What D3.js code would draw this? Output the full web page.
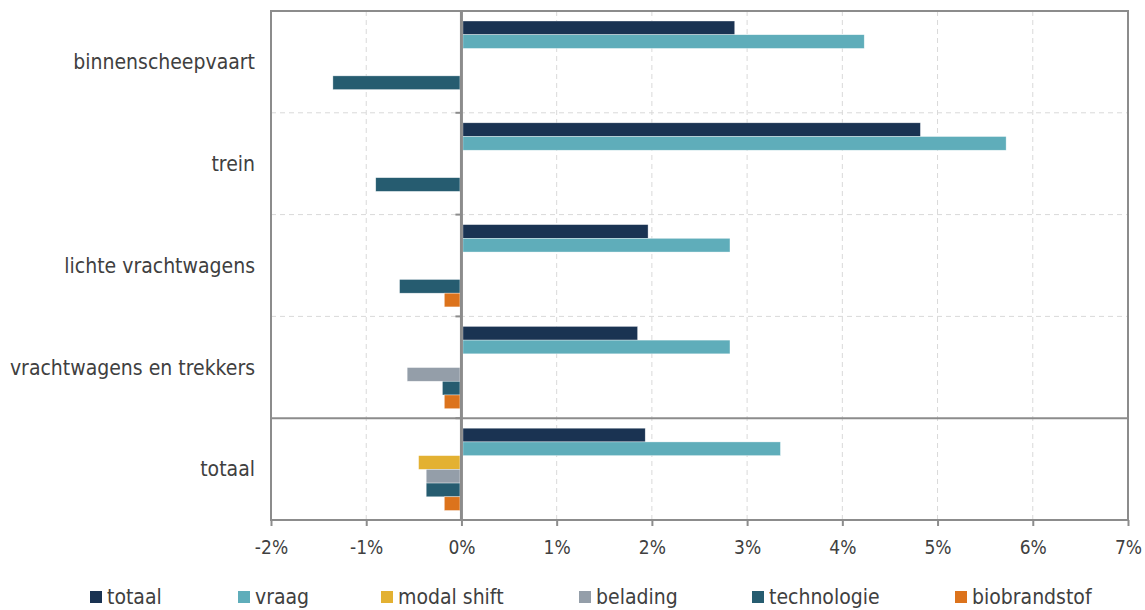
<!DOCTYPE html>
<html>
<head>
<meta charset="utf-8">
<script src="https://cdn.jsdelivr.net/npm/d3@7"></script>
<style>
  body { margin: 0; background: #fff; }
  svg text { font-family: "DejaVu Sans Condensed", "DejaVu Sans", sans-serif; font-stretch: condensed; fill: #404040; }
</style>
</head>
<body>
<svg width="1145" height="610"></svg>
<script>
//data
const categories = ['binnenscheepvaart', 'trein', 'lichte vrachtwagens', 'vrachtwagens en trekkers', 'totaal'];
const series = ['totaal', 'vraag', 'modal shift', 'belading', 'technologie', 'biobrandstof'];
const colors = ['#1a3352', '#5fadba', '#e3b132', '#949ea9', '#265c70', '#dc731c'];
// values in %, one array per category, in series order
const binnenscheepvaart = [2.87, 4.23, 0, 0, -1.35, 0];
const trein = [4.82, 5.72, 0, 0, -0.9, 0];
const lichteVrachtwagens = [1.96, 2.82, 0, 0, -0.65, -0.18];
const vrachtwagensTrekkers = [1.85, 2.82, 0, -0.57, -0.2, -0.18];
const totaal = [1.93, 3.35, -0.45, -0.37, -0.37, -0.18];
const xTicks = [-2, -1, 0, 1, 2, 3, 4, 5, 6, 7];

const values = [binnenscheepvaart, trein, lichteVrachtwagens, vrachtwagensTrekkers, totaal];
const data = [];
values.forEach((row, ci) => row.forEach((v, si) => {
	if (v !== 0) data.push({cat: categories[ci], s: series[si], i: si, v: v});
}));

//layout
const pLeft = 271, pRight = 1128, pTop = 11, pBottom = 520;
const svg = d3.select('svg');

const x = d3.scaleLinear().domain([-2, 7]).range([pLeft, pRight]);
const y = d3.scaleBand().domain(categories).range([pTop, pBottom]);
const yi = d3.scaleBand().domain(series).range([10, y.bandwidth() - 9.5]);

//grid
svg.append('g').selectAll('line').data(xTicks.filter(t => t > -2 && t < 7 && t !== 0))
	.enter().append('line')
	.attr('x1', d => x(d)).attr('x2', d => x(d))
	.attr('y1', pTop).attr('y2', pBottom)
	.attr('stroke', '#d9d9d9').attr('stroke-width', 1).attr('stroke-dasharray', '5,4');

svg.append('g').selectAll('line').data(categories.slice(1, 4))
	.enter().append('line')
	.attr('x1', pLeft).attr('x2', pRight)
	.attr('y1', d => y(d)).attr('y2', d => y(d))
	.attr('stroke', '#d9d9d9').attr('stroke-width', 1).attr('stroke-dasharray', '5,4');

//bars
svg.append('g').selectAll('rect').data(data)
	.enter().append('rect')
	.attr('x', d => d.v > 0 ? x(0) + 1.5 : x(d.v))
	.attr('y', d => y(d.cat) + yi(d.s))
	.attr('width', d => d.v > 0 ? x(d.v) - x(0) - 1.5 : x(0) - x(d.v) - 1.5)
	.attr('height', yi.bandwidth())
	.attr('fill', d => colors[d.i])
	.attr('stroke', 'rgba(255,255,255,0.6)')
	.attr('stroke-width', 0.6);

//separator above totaal
svg.append('line')
	.attr('x1', pLeft).attr('x2', pRight)
	.attr('y1', y('totaal')).attr('y2', y('totaal'))
	.attr('stroke', '#8c8c8c').attr('stroke-width', 2);

//frame
svg.append('rect')
	.attr('x', pLeft).attr('y', pTop)
	.attr('width', pRight - pLeft).attr('height', pBottom - pTop)
	.attr('fill', 'none').attr('stroke', '#8c8c8c').attr('stroke-width', 2);

//zero line with small ticks
svg.append('line')
	.attr('x1', x(0)).attr('x2', x(0)).attr('y1', pTop).attr('y2', pBottom)
	.attr('stroke', '#8c8c8c').attr('stroke-width', 3);
svg.append('g').selectAll('line').data(categories.slice(1))
	.enter().append('line')
	.attr('x1', x(0) - 6).attr('x2', x(0))
	.attr('y1', d => y(d)).attr('y2', d => y(d))
	.attr('stroke', '#8c8c8c').attr('stroke-width', 2);

//x axis
const xAxis = svg.append('g')
	.attr('transform', `translate(0,${pBottom})`)
	.call(d3.axisBottom(x).tickValues(xTicks).tickFormat(d => d + '%').tickSize(6).tickSizeOuter(0));
xAxis.select('.domain').remove();
xAxis.selectAll('line').attr('stroke', '#8c8c8c').attr('stroke-width', 2);
xAxis.selectAll('text').attr('dy', 0).attr('y', 34)
	.style('font-size', '19px').attr('fill', '#404040');

//category labels
svg.append('g').selectAll('text').data(categories)
	.enter().append('text')
	.attr('x', 255)
	.attr('y', d => y(d) + y.bandwidth() / 2)
	.attr('dy', '0.35em')
	.attr('text-anchor', 'end')
	.style('font-size', '21px')
	.text(d => d);

//legend
const legendX = [90, 238, 381, 579, 752, 955];
const legend = svg.append('g').selectAll('g').data(series)
	.enter().append('g')
	.attr('transform', (d, i) => `translate(${legendX[i]},591)`);
legend.append('rect').attr('width', 12).attr('height', 12).attr('fill', (d, i) => colors[i]);
legend.append('text').attr('x', 17).attr('y', 6).attr('dy', '0.35em')
	.style('font-size', '21px').text(d => d);
</script>
</body>
</html>
